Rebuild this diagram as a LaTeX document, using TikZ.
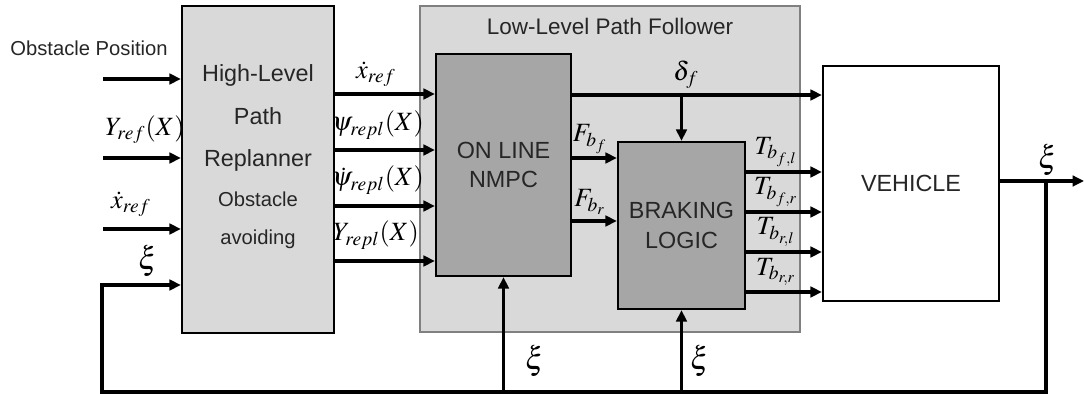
\documentclass[tikz,border=0pt]{standalone}
\usepackage{mathptmx}
\usepackage{fontspec}
\setmainfont{Liberation Sans}
\usetikzlibrary{arrows.meta}
\definecolor{lightbox}{HTML}{D9D9D9}
\definecolor{darkbox}{HTML}{A6A6A6}
\definecolor{framegray}{HTML}{808080}
\tikzset{
    block/.style={draw, line width=1.3pt, inner sep=0pt},
    sig/.style={line width=2pt, -{Triangle[length=6.5pt,width=6pt]}},
    wire/.style={line width=2pt},
    lbl/.style={inner sep=0pt, font=\fontsize{15}{17}\selectfont},
    xilbl/.style={inner sep=0pt, font=\fontsize{18}{20}\selectfont}
}
\tikzset{
    boxtext/.style={inner sep=0pt, align=center, text=black!85,
    	font=\fontsize{13.3}{17}\selectfont}
}

\begin{document}
\begin{tikzpicture}[x=0.02cm,y=-0.02cm]
  \useasboundingbox (0,0) rectangle (1084,394);

  % blocks
  \node (llf) [block, draw=framegray, line width=0.9pt, fill=lightbox, minimum width=7.6cm,
    minimum height=6.52cm] at (610,169) {};
  \node (llftitle) [boxtext, font=\fontsize{12.8}{15}\selectfont] at (610,26) {Low-Level Path Follower};

  \node (hl) [block, fill=lightbox, minimum width=3.04cm, minimum height=6.54cm] at (258,169.5) {};
  \node (hltop) [boxtext, font=\fontsize{13.3}{24.4}\selectfont] at (258,118) {High-Level\\Path\\Replanner};
  \node (hlbot) [boxtext, font=\fontsize{11.5}{21.5}\selectfont] at (258,220) {Obstacle\\avoiding};

  \node (nmpc) [block, fill=darkbox, minimum width=2.7cm, minimum height=4.44cm,
    boxtext] at (503.5,165) {ON LINE\\NMPC};
  \node (brake) [block, fill=darkbox, minimum width=2.54cm, minimum height=3.34cm,
    boxtext] at (681.5,225.5) {BRAKING\\LOGIC};
  \node (veh) [block, fill=white, minimum width=3.52cm, minimum height=4.7cm,
    boxtext] at (911,183.5) {VEHICLE};

  % inputs of the replanner
  \node (obst) [boxtext, font=\fontsize{11.5}{14}\selectfont] at (89,48) {Obstacle Position};
  \coordinate (in1) at (103,79);
  \coordinate (in2) at (103,158);
  \coordinate (in3) at (103,229);
  \coordinate (xiin) at (hl.west |- 0,285);
  \draw[sig] (in1) -- (in1 -| hl.west);
  \draw[sig] (in2) -- (in2 -| hl.west);
  \draw[sig] (in3) -- (in3 -| hl.west);
  \node (yref) [lbl] at (145,130) {$Y_{ref}(X)$};
  \node (xdref) [lbl] at (131,204) {$\dot{x}_{ref}$};
  \node (xil) [xilbl] at (148,261) {$\xi$};

  % replanner -> NMPC
  \coordinate (o1) at (hl.east |- 0,94);
  \coordinate (o2) at (hl.east |- 0,150);
  \coordinate (o3) at (hl.east |- 0,206);
  \coordinate (o4) at (hl.east |- 0,261);
  \draw[sig] (o1) -- (o1 -| nmpc.west);
  \draw[sig] (o2) -- (o2 -| nmpc.west);
  \draw[sig] (o3) -- (o3 -| nmpc.west);
  \draw[sig] (o4) -- (o4 -| nmpc.west);
  \node (xdo) [lbl] at (376,74) {$\dot{x}_{ref}$};
  \node (psio) [lbl] at (378,125) {$\psi_{repl}(X)$};
  \node (psido) [lbl] at (378,180) {$\dot{\psi}_{repl}(X)$};
  \node (yrepl) [lbl] at (376,235) {$Y_{repl}(X)$};

  % NMPC -> braking logic / vehicle
  \coordinate (dl) at (nmpc.east |- 0,95);
  \coordinate (dtap) at (brake.north |- dl);
  \draw[sig] (dl) -- (dl -| veh.west);
  \draw[sig] (dtap) -- (brake.north);
  \node (delta) [lbl] at (686,75) {$\delta_f$};
  \coordinate (f1) at (nmpc.east |- 0,158);
  \coordinate (f2) at (nmpc.east |- 0,221);
  \draw[sig] (f1) -- (f1 -| brake.west);
  \draw[sig] (f2) -- (f2 -| brake.west);
  \node (fbf) [lbl] at (590,139) {$F_{b_f}$};
  \node (fbr) [lbl] at (590,202) {$F_{b_r}$};

  % braking logic -> vehicle
  \foreach \yy/\sub [count=\i] in {172/{f,l},212/{f,r},252/{r,l},292/{r,r}} {
    \coordinate (t\i) at (brake.east |- 0,\yy);
    \draw[sig] (t\i) -- (t\i -| veh.west);
    \node (tl\i) [lbl] at (776,\yy-20) {$T_{b_{\sub}}$};
  }

  % vehicle output and feedback
  \coordinate (vo) at (veh.east |- 0,181);
  \coordinate (xitap) at (1046,181);
  \coordinate (vend) at (1084,181);
  \coordinate (fbl) at (102,392);
  \draw[sig] (vo) -- (vend);
  \node (xiout) [xilbl] at (1048,160) {$\xi$};
  \draw[sig] (xitap) |- (fbl) |- (xiin);
  \draw[sig] (nmpc.south |- fbl) -- (nmpc.south);
  \draw[sig] (brake.south |- fbl) -- (brake.south);
  \node (xin) [xilbl] at (535,361) {$\xi$};
  \node (xib) [xilbl] at (700,361) {$\xi$};
\end{tikzpicture}
\end{document}
